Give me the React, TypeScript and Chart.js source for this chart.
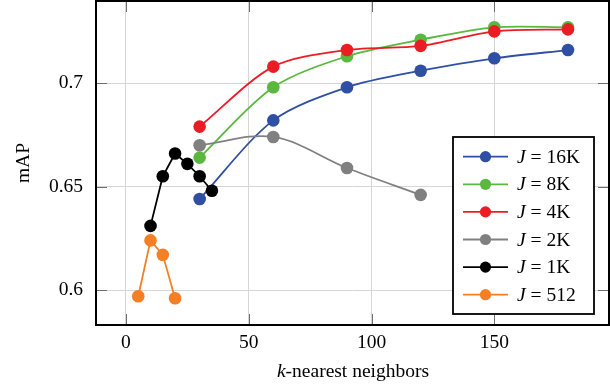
import React, { useEffect, useRef } from "react";
import { Chart, registerables } from "chart.js";

Chart.register(...registerables);

const kBig = [30, 60, 90, 120, 150, 180];
const j16k = [0.644, 0.682, 0.698, 0.706, 0.712, 0.716];
const j8k = [0.664, 0.698, 0.713, 0.721, 0.727, 0.727];
const j4k = [0.679, 0.708, 0.716, 0.718, 0.725, 0.726];
const kGray = [30, 60, 90, 120];
const j2k = [0.670, 0.674, 0.659, 0.646];
const kBlack = [10, 15, 20, 25, 30, 35];
const j1k = [0.631, 0.655, 0.666, 0.661, 0.655, 0.648];
const kOrange = [5, 10, 15, 20];
const j512 = [0.597, 0.624, 0.617, 0.596];

const seriesNames = ["16K", "8K", "4K", "2K", "1K", "512"];
const seriesColors = ["#2f4fa4", "#5ab83e", "#ec1c24", "#808080", "#000000", "#f47f24"];
const xTicks = [0, 50, 100, 150];
const yTicks = [0.6, 0.65, 0.7];

const FONT = "'Liberation Serif', 'Times New Roman', serif";
const FS = 19.5;

function pts(xs: number[], ys: number[]) {
  return xs.map((x, i) => ({ x, y: ys[i] }));
}

export default function App() {
  const ref = useRef<HTMLCanvasElement | null>(null);
  useEffect(() => {
    if (!ref.current) return;
    const sets = [
      pts(kBig, j16k),
      pts(kBig, j8k),
      pts(kBig, j4k),
      pts(kGray, j2k),
      pts(kBlack, j1k),
      pts(kOrange, j512),
    ];
    const tensions = [0.3, 0.3, 0.3, 0.35, 0, 0];
    const datasets = sets.map((d, i) => ({
      label: "J = " + seriesNames[i],
      data: d,
      borderColor: seriesColors[i],
      backgroundColor: seriesColors[i],
      pointBackgroundColor: seriesColors[i],
      pointBorderColor: seriesColors[i],
      borderWidth: 1.8,
      pointRadius: 6.3,
      pointBorderWidth: 0,
      tension: tensions[i],
      order: 6 - i,
    }));

    const deco = {
      id: "deco",
      afterDraw(chart: any) {
        const ctx = chart.ctx;
        const a = chart.chartArea;
        const xs = chart.scales.x;
        const ys = chart.scales.y;
        ctx.save();
        // inner tick marks
        ctx.strokeStyle = "#6e6e6e";
        ctx.lineWidth = 1;
        const tl = 11;
        xTicks.forEach((v) => {
          const px = Math.round(xs.getPixelForValue(v)) + 0.5;
          ctx.beginPath();
          ctx.moveTo(px, a.bottom);
          ctx.lineTo(px, a.bottom - tl);
          ctx.moveTo(px, a.top);
          ctx.lineTo(px, a.top + tl);
          ctx.stroke();
        });
        yTicks.forEach((v) => {
          const py = Math.round(ys.getPixelForValue(v)) + 0.5;
          ctx.beginPath();
          ctx.moveTo(a.left, py);
          ctx.lineTo(a.left + tl, py);
          ctx.moveTo(a.right, py);
          ctx.lineTo(a.right - tl, py);
          ctx.stroke();
        });
        // frame
        ctx.strokeStyle = "#000";
        ctx.lineWidth = 2;
        ctx.strokeRect(a.left, a.top, a.right - a.left, a.bottom - a.top);

        // legend
        const lx = 453, ly = 137, lw = 141, lh = 177;
        ctx.fillStyle = "#fff";
        ctx.fillRect(lx, ly, lw, lh);
        ctx.strokeStyle = "#000";
        ctx.lineWidth = 1.8;
        ctx.strokeRect(lx, ly, lw, lh);
        ctx.textBaseline = "middle";
        ctx.textAlign = "left";
        seriesNames.forEach((n, i) => {
          const y = 156.7 + i * 27.6;
          ctx.strokeStyle = seriesColors[i];
          ctx.lineWidth = 1.8;
          ctx.beginPath();
          ctx.moveTo(463, y);
          ctx.lineTo(508, y);
          ctx.stroke();
          ctx.fillStyle = seriesColors[i];
          ctx.beginPath();
          ctx.arc(485.5, y, 5.6, 0, Math.PI * 2);
          ctx.fill();
          ctx.fillStyle = "#000";
          ctx.font = "italic " + FS + "px " + FONT;
          ctx.fillText("J", 517, y + 1);
          const w = ctx.measureText("J").width;
          ctx.font = FS + "px " + FONT;
          ctx.fillText(" = " + n, 517 + w, y + 1);
        });

        // x title
        ctx.fillStyle = "#000";
        ctx.font = "italic " + FS + "px " + FONT;
        const t1 = "k";
        const w1 = ctx.measureText(t1).width;
        ctx.font = FS + "px " + FONT;
        const t2 = "-nearest neighbors";
        const w2 = ctx.measureText(t2).width;
        const cx = 353;
        const sx = cx - (w1 + w2) / 2;
        ctx.font = "italic " + FS + "px " + FONT;
        ctx.fillText(t1, sx, 372);
        ctx.font = FS + "px " + FONT;
        ctx.fillText(t2, sx + w1, 372);

        // y title
        ctx.translate(24, 163);
        ctx.rotate(-Math.PI / 2);
        ctx.textAlign = "center";
        ctx.fillText("mAP", 0, 0);
        ctx.restore();
      },
    };

    const chart = new Chart(ref.current, {
      type: "line",
      data: { datasets },
      options: {
        animation: false,
        responsive: false,
        maintainAspectRatio: false,
        layout: { autoPadding: false, padding: { top: 1, right: 1, left: 0, bottom: 0 } },
        plugins: { legend: { display: false }, tooltip: { enabled: false } },
        scales: {
          x: {
            type: "linear",
            min: -12.2,
            max: 196.7,
            afterFit: (s: any) => { s.height = 60; s.paddingLeft = 0; s.paddingRight = 0; },
            afterBuildTicks: (s: any) => { s.ticks = xTicks.map((v) => ({ value: v })); },
            grid: { color: "#d6d6d6", lineWidth: 1, drawTicks: false },
            border: { display: false },
            ticks: {
              padding: 6,
              color: "#000",
              font: { family: FONT, size: FS },
              callback: (v: any) => String(v),
            },
          },
          y: {
            type: "linear",
            min: 0.5831,
            max: 0.7397,
            afterFit: (s: any) => { s.width = 96; s.paddingTop = 0; s.paddingBottom = 0; },
            afterBuildTicks: (s: any) => { s.ticks = yTicks.map((v) => ({ value: v })); },
            grid: { color: "#d6d6d6", lineWidth: 1, drawTicks: false },
            border: { display: false },
            ticks: {
              padding: 13,
              color: "#000",
              font: { family: FONT, size: FS },
              callback: (v: any) => String(v),
            },
          },
        },
      },
      plugins: [deco],
    });
    return () => chart.destroy();
  }, []);
  return (
    <div style={{ position: "fixed", left: 0, top: 0, width: 610, height: 385, background: "#fff" }}>
      <canvas ref={ref} width={610} height={385} style={{ width: 610, height: 385 }} />
    </div>
  );
}
